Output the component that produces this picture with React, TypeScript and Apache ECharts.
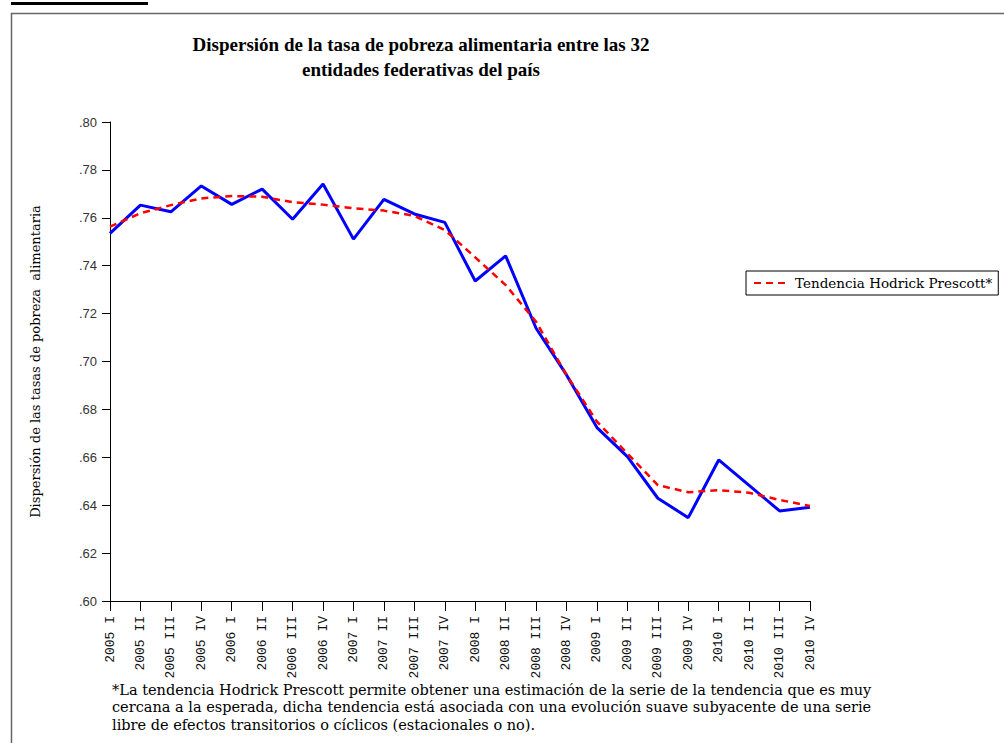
import React, { useEffect, useRef } from "react";
import * as echarts from "echarts";

const categories = [
  "2005 I", "2005 II", "2005 III", "2005 IV",
  "2006 I", "2006 II", "2006 III", "2006 IV",
  "2007 I", "2007 II", "2007 III", "2007 IV",
  "2008 I", "2008 II", "2008 III", "2008 IV",
  "2009 I", "2009 II", "2009 III", "2009 IV",
  "2010 I", "2010 II", "2010 III", "2010 IV",
];

const dispersion = [
  0.7535, 0.7653, 0.7625, 0.7733, 0.7656, 0.7720, 0.7594, 0.7741,
  0.7511, 0.7677, 0.7616, 0.7581, 0.7336, 0.7441, 0.7139, 0.6944,
  0.6724, 0.6603, 0.6429, 0.6348, 0.6589, 0.6483, 0.6376, 0.6391,
];

const hpTrend = [
  0.7563, 0.7619, 0.7653, 0.7681, 0.7691, 0.7688, 0.7665, 0.7655,
  0.7640, 0.7630, 0.7608, 0.7549, 0.7435, 0.7319, 0.7166, 0.6944,
  0.6749, 0.6616, 0.6484, 0.6454, 0.6463, 0.6452, 0.6422, 0.6397,
];

const yTicks = [".60", ".62", ".64", ".66", ".68", ".70", ".72", ".74", ".76", ".78", ".80"];

const titleLines = [
  "Dispersión de la tasa de pobreza alimentaria entre las 32",
  "entidades federativas del país",
];
const yAxisName = "Dispersión de las tasas de pobreza  alimentaria";
const legendName = "Tendencia Hodrick Prescott*";
const footnoteLines = [
  "*La tendencia Hodrick Prescott permite obtener una estimación de la serie de la tendencia que es muy",
  "cercana a la esperada, dicha tendencia está asociada con una evolución suave subyacente de una serie",
  "libre de efectos transitorios o cíclicos (estacionales o no).",
];

export default function App() {
  const ref = useRef<HTMLDivElement>(null);
  useEffect(() => {
    if (!ref.current) return;
    const chart = echarts.init(ref.current, undefined, { renderer: "svg" });
    const serif = "'Liberation Serif', 'DejaVu Serif', serif";
    const wideSerif = "'DejaVu Serif', 'Liberation Serif', serif";
    chart.setOption({
      animation: false,
      backgroundColor: "#ffffff",
      title: {
        text: titleLines.join("\n"),
        left: 416,
        top: 26.5,
        textAlign: "center",
        textStyle: {
          fontFamily: serif,
          fontSize: 19,
          fontWeight: "bold",
          color: "#000",
          lineHeight: 25,
        },
      },
      grid: { left: 110, top: 122, right: 194, bottom: 142, containLabel: false },
      legend: {
        show: true,
        data: [{ name: legendName }],
        left: 746,
        top: 271,
        padding: [5, 6, 5, 7],
        itemWidth: 34,
        itemHeight: 10,
        itemGap: 8,
        borderColor: "#000",
        borderWidth: 1,
        borderRadius: 0,
        itemStyle: { opacity: 0 },
        textStyle: { fontFamily: wideSerif, fontSize: 13.5, color: "#000", padding: [0, 0, 0, 2] },
      },
      xAxis: {
        type: "category",
        data: categories,
        boundaryGap: false,
        axisLine: { lineStyle: { color: "#000", width: 1 } },
        axisTick: { show: true, alignWithLabel: true, length: 10, lineStyle: { color: "#000" } },
        axisLabel: {
          interval: 0,
          rotate: 90,
          margin: 15,
          fontFamily: "'Liberation Mono', 'DejaVu Sans Mono', monospace",
          fontSize: 13,
          color: "#111",
        },
        splitLine: { show: false },
      },
      yAxis: {
        type: "value",
        min: 0.6,
        max: 0.8,
        interval: 0.02,
        name: yAxisName,
        nameLocation: "middle",
        nameGap: 68,
        nameRotate: 90,
        nameTextStyle: { fontFamily: wideSerif, fontSize: 13, color: "#000" },
        axisLine: { show: true, lineStyle: { color: "#000", width: 1 } },
        axisTick: { show: true, length: 8, lineStyle: { color: "#000" } },
        axisLabel: {
          margin: 13,
          fontFamily: "'Liberation Sans', Arial, sans-serif",
          fontSize: 13,
          color: "#333",
          formatter: (v: number) => yTicks[Math.round((v - 0.6) / 0.02)] ?? "",
        },
        splitLine: { show: false },
      },
      series: [
        {
          name: "Dispersión",
          type: "line",
          data: dispersion,
          symbol: "none",
          lineStyle: { color: "#0000ff", width: 3 },
          itemStyle: { color: "#0000ff" },
          z: 3,
        },
        {
          name: legendName,
          type: "line",
          data: hpTrend,
          symbol: "none",
          lineStyle: { color: "#ff0000", width: 2.5, type: [7, 5] },
          itemStyle: { color: "#ff0000" },
          z: 4,
        },
      ],
      graphic: [
        {
          type: "rect",
          shape: { x: 11, y: 2, width: 137, height: 3 },
          style: { fill: "#000" },
          silent: true,
        },
        {
          type: "rect",
          shape: { x: 11.5, y: 13.5, width: 1000, height: 740 },
          style: { fill: "none", stroke: "#666", lineWidth: 1.5 },
          silent: true,
        },
        {
          type: "text",
          left: 112,
          top: 681,
          style: {
            text: footnoteLines.join("\n"),
            font: "14.5px " + wideSerif,
            fill: "#000",
            lineHeight: 17.5,
          },
          silent: true,
        },
      ],
    });
    return () => chart.dispose();
  }, []);
  return (
    <div
      ref={ref}
      style={{ position: "fixed", left: 0, top: 0, width: 1004, height: 743 }}
    />
  );
}
